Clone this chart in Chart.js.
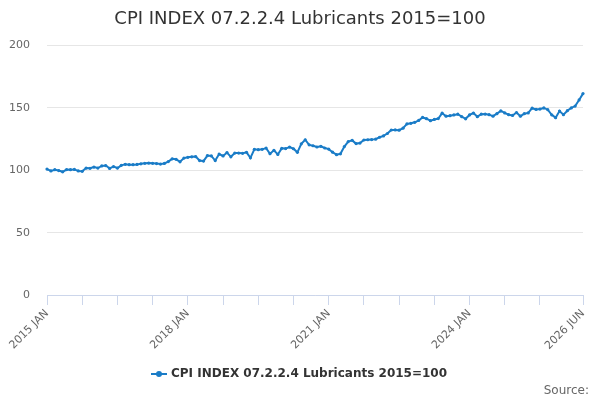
<!DOCTYPE html>
<html>
<head>
<meta charset="utf-8">
<script src="https://cdn.jsdelivr.net/npm/chart.js@4"></script>
<style>
  body { margin: 0; background: #fff; }
  #wrap { position: relative; width: 600px; height: 400px; }
  #source { position: absolute; right: 11px; bottom: 3px; font: 12px "DejaVu Sans", sans-serif; color: #666; }
</style>
</head>
<body>
<div id="wrap">
  <canvas id="myChart" width="600" height="400"></canvas>
  <div id="source">Source:</div>
</div>
<script>
// DATA

const startYear = 2015;
const monthNames = ["JAN", "FEB", "MAR", "APR", "MAY", "JUN", "JUL", "AUG", "SEP", "OCT", "NOV", "DEC"];
const seriesName = "CPI INDEX 07.2.2.4 Lubricants 2015=100";

// monthly index, 2015 JAN .. 2026 JUN
const cpiValues = [
  101, 99.5, 100.5, 99.8, 98.8, 100.6, 100.5, 100.7, 99.5, 99.2, 101.8, 101.6,
  102.6, 101.8, 103.5, 103.8, 101.5, 103, 101.8, 104, 104.8, 104.5, 104.5, 104.7,
  105.2, 105.6, 105.8, 105.6, 105.4, 105, 105.5, 107, 109.2, 108.8, 106.8, 109.8,
  110.4, 110.8, 111, 107.8, 107.4, 111.8, 111.5, 107.8, 113, 111.5, 114.2, 110.8,
  113.8, 113.8, 113.6, 114.4, 110, 116.8, 116.5, 116.8, 117.8, 113.3, 116, 112.7,
  117.6, 117.4, 118.6, 117.3, 114.4, 121.2, 124.5, 120.4, 119.7, 118.7, 119.2, 117.9,
  117, 114.5, 112.5, 113.2, 119, 123, 124, 121.4, 121.8, 124.3, 124.5, 124.6,
  125, 126.5, 127.6, 129.5, 132.3, 132.4, 132.2, 133.8, 137.2, 137.7, 138.5, 140,
  142.4, 141.4, 139.8, 140.8, 141.5, 145.8, 143.4, 143.8, 144.4, 145, 143, 141.3,
  144.4, 145.9, 143, 145, 145.1, 144.6, 143.4, 145.4, 147.6, 146, 144.6, 144,
  146.3, 143.4, 145.4, 146, 149.8, 148.8, 149.1, 150, 148.6, 144.5, 142.2, 147.5,
  144.6, 147.8, 150, 151.5, 156.4, 161.5
];

const yTicks = [0, 50, 100, 150, 200];

const monthLabels = [];
for (let i = 0; i < cpiValues.length; i++) {
  monthLabels.push((startYear + Math.floor(i / 12)) + " " + monthNames[i % 12]);
}

const lineColor = "#1a7cc7";
const font = "DejaVu Sans";

// legend marker: short line with a dot
const marker = document.createElement("canvas");
marker.width = 16;
marker.height = 8;
const mctx = marker.getContext("2d");
mctx.strokeStyle = lineColor;
mctx.lineWidth = 2;
mctx.beginPath();
mctx.moveTo(0, 4);
mctx.lineTo(16, 4);
mctx.stroke();
mctx.fillStyle = lineColor;
mctx.beginPath();
mctx.arc(8, 4, 3, 0, Math.PI * 2);
mctx.fill();

const lastIndex = cpiValues.length - 1;

new Chart("myChart", {
  type: "line",
  data: {
    labels: monthLabels,
    datasets: [{
      label: seriesName,
      data: cpiValues,
      borderColor: lineColor,
      backgroundColor: lineColor,
      borderWidth: 2,
      pointRadius: 1.6,
      pointBorderWidth: 0,
      pointHoverRadius: 3,
      pointStyle: "circle",
      tension: 0
    }]
  },
  options: {
    responsive: false,
    animation: false,
    layout: { padding: { left: 0, right: 0, top: 0, bottom: 10 } },
    scales: {
      x: {
        afterFit: function (scale) { scale.height = 62; },
        grid: { drawOnChartArea: false, drawTicks: true, tickLength: 10, color: "#ccd6eb" },
        border: { color: "#ccd6eb" },
        ticks: {
          autoSkip: false,
          maxRotation: 45,
          minRotation: 45,
          padding: 2,
          color: "#666",
          font: { family: font, size: 11 },
          callback: function (val, i) {
            if (i % 36 === 0 || i === lastIndex) return monthLabels[i];
            if (i % 9 === 0 && i <= 126) return "";
            return null;
          }
        }
      },
      y: {
        min: 0,
        max: 200,
        afterFit: function (scale) { scale.width = 47; },
        afterBuildTicks: function (scale) { scale.ticks = yTicks.map(v => ({ value: v })); },
        grid: { color: "#e6e6e6", drawTicks: false },
        border: { display: false },
        ticks: { padding: 17, color: "#666", font: { family: font, size: 11 } }
      },
      // empty right axis, only keeps a margin on the right
      yRight: {
        position: "right",
        min: 0,
        max: 200,
        afterFit: function (scale) { scale.width = 17; },
        grid: { display: false },
        border: { display: false },
        ticks: { display: false }
      }
    },
    plugins: {
      title: {
        display: true,
        text: seriesName,
        color: "#333",
        font: { family: font, size: 18, weight: "normal" },
        padding: { top: 9, bottom: 15 }
      },
      legend: {
        position: "bottom",
        labels: {
          usePointStyle: true,
          pointStyle: marker,
          color: "#333",
          font: { family: font, size: 12, weight: "bold" },
          padding: 11
        }
      },
      tooltip: { enabled: false }
    }
  }
});
</script>
</body>
</html>
